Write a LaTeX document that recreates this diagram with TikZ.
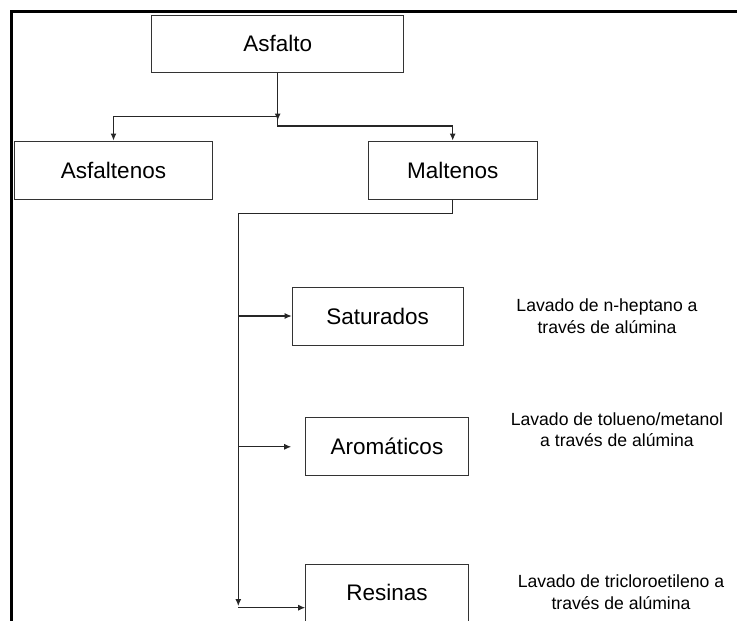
\documentclass[tikz,border=0pt]{standalone}
\usepackage{fontspec}
\setmainfont{Liberation Sans}
\usetikzlibrary{arrows.meta,positioning}

\begin{document}
\begin{tikzpicture}[x=1pt, y=-1pt,
		caja/.style={rectangle, draw=black!80, line width=1pt, inner sep=0pt,
			font=\fontsize{22.5}{27}\selectfont, text height=16pt, text depth=0pt},
		nota/.style={align=center, anchor=base, inner sep=0pt,
			font=\fontsize{17.6}{21.7}\selectfont},
		linea/.style={line width=1.1pt, draw=black!85},
		flecha/.style={linea, -{Latex[length=7pt,width=6pt]}}]
		\useasboundingbox (0,0) rectangle (737,621);
		\draw[line width=3pt] (11.5,621) -- (11.5,11.3) -- (737,11.3);
		\begin{scope}[every node/.style={caja}]
			\node[minimum width=252, minimum height=57] (asf) at (277.7,43.5) {Asfalto};
			\node[minimum width=198.4, minimum height=58] (asfn) at (113.5,170) {Asfaltenos};
			\node[minimum width=169.3, minimum height=58] (malt) at (452.7,170) {Maltenos};
			\node[minimum width=171, minimum height=58] (sat) at (377.7,316) {Saturados};
			\node[minimum width=162.6, minimum height=58.3] (aro) at (387,446.8) {Aromáticos};
			\node[minimum width=162.6, minimum height=57] (res) at (387,592.5) {Resinas};
		\end{scope}
		\coordinate (tipA) at (277.7,120.5);
		\coordinate (splitL) at (277.7,116.7);
		\coordinate (splitR) at (277.7,126);
		\coordinate (trunk) at (238.3,213.3);
		\coordinate (trunkEnd) at (238.3,606);
		\coordinate (trunkFoot) at (238.3,607.7);
		\draw[flecha] (asf.south) -- (tipA);
		\draw[flecha] (splitL) -| (asfn.north);
		\draw[flecha] (asf.south) -- (splitR) -| (malt.north);
		\draw[linea] (malt.south) |- (trunk);
		\draw[flecha] (trunk) -- (trunkEnd);
		\draw[flecha] (trunk |- sat.west) -- (sat.west);
		\draw[flecha, shorten >=14pt] (trunk |- aro.west) -- (aro.west);
		\draw[flecha] (trunkFoot) -- (trunkFoot -| res.west);
		\node[nota] (lav1) at (607,333.4) {Lavado de n-heptano a\\través de alúmina};
		\node[nota] (lav2) at (617,446.7) {Lavado de tolueno/metanol\\a través de alúmina};
		\node[nota] (lav3) at (621,609.3) {Lavado de tricloroetileno a\\través de alúmina};
\end{tikzpicture}
\end{document}
